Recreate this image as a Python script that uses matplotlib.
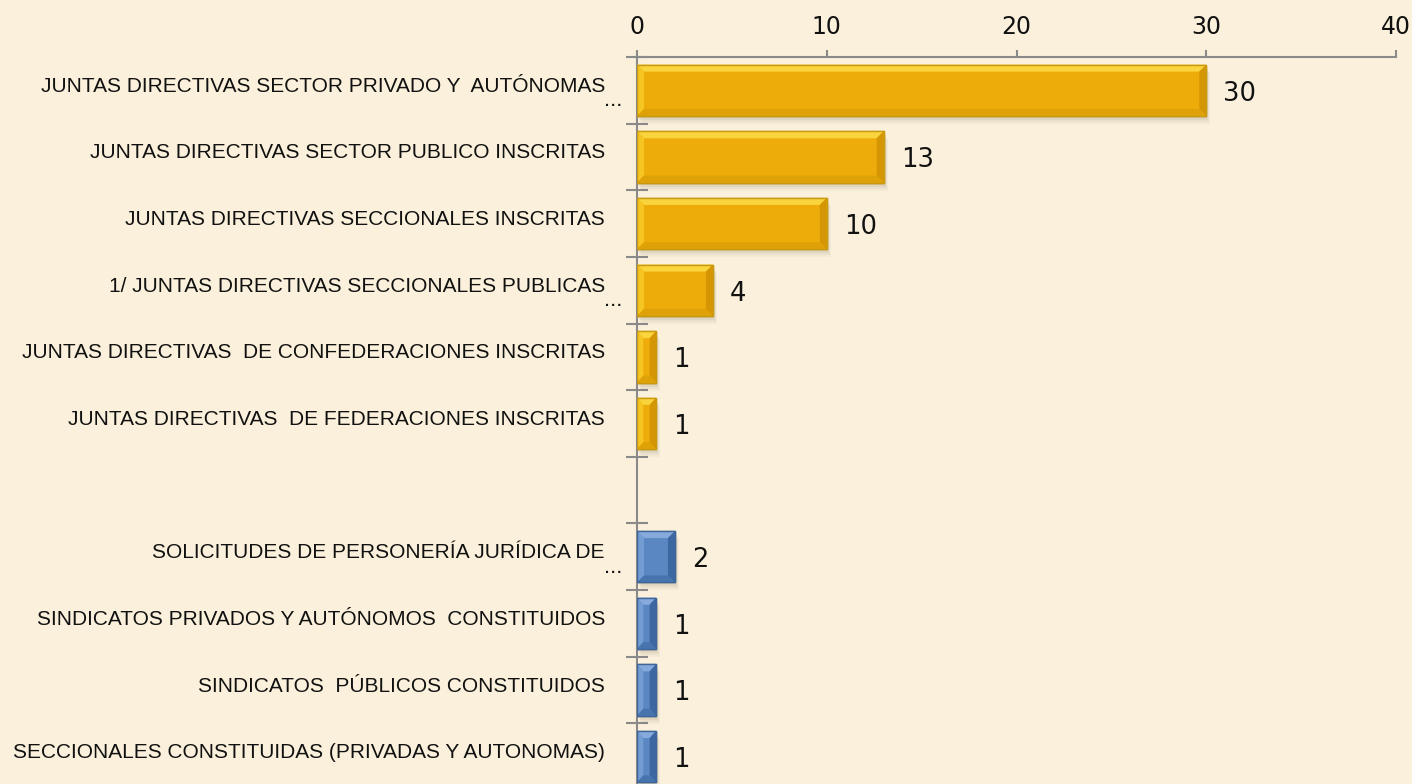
import matplotlib.pyplot as plt
import matplotlib.transforms as mtransforms
from matplotlib.patches import Polygon, Rectangle

# data
categories = [
    "JUNTAS DIRECTIVAS SECTOR PRIVADO Y  AUTÓNOMAS",
    "JUNTAS DIRECTIVAS SECTOR PUBLICO INSCRITAS",
    "JUNTAS DIRECTIVAS SECCIONALES INSCRITAS",
    "1/ JUNTAS DIRECTIVAS SECCIONALES PUBLICAS",
    "JUNTAS DIRECTIVAS  DE CONFEDERACIONES INSCRITAS",
    "JUNTAS DIRECTIVAS  DE FEDERACIONES INSCRITAS",
    "",
    "SOLICITUDES DE PERSONERÍA JURÍDICA DE",
    "SINDICATOS PRIVADOS Y AUTÓNOMOS  CONSTITUIDOS",
    "SINDICATOS  PÚBLICOS CONSTITUIDOS",
    "SECCIONALES CONSTITUIDAS (PRIVADAS Y AUTONOMAS)",
]
values = [30, 13, 10, 4, 1, 1, None, 2, 1, 1, 1]
truncated = [True, False, False, True, False, False, False, True, False, False, False]
groups = ["gold"] * 6 + [None] + ["blue"] * 4
x_ticks = [0, 10, 20, 30, 40]

palette = {
    # main, top, left, right, bottom, edge
    "gold": ("#EEAC0B", "#F9D43C", "#F6C521", "#D59606", "#DFA108", "#C99A10"),
    "blue": ("#5A87C2", "#86AADB", "#729CD2", "#3D67A0", "#4774AF", "#3F6599"),
}

W, H = 1412, 784
fig = plt.figure(figsize=(W / 100, H / 100), dpi=100)
bg = "#FAF0DB"
fig.patch.set_facecolor(bg)

ax = fig.add_axes([637 / W, 1 - 790 / H, (1396 - 637) / W, (790 - 57) / H])
ax.set_facecolor("none")
n = len(categories)
ax.set_xlim(0, 40)
ax.set_ylim(n - 0.5, -0.5)

# pixel -> data units
px_x = 40 / (1396 - 637)
px_y = n / (790 - 57)

bar_h = 0.77
bev = 7
for i, (v, g) in enumerate(zip(values, groups)):
    if v is None:
        continue
    main, top, left, right, bottom, edge = palette[g]
    y0, y1 = i - bar_h / 2, i + bar_h / 2
    # soft shadow
    for k, a in [(8, 0.04), (6, 0.05), (4, 0.07), (2, 0.09)]:
        ax.add_patch(Rectangle((k * px_x * 0.5, y0 + k * px_y), v, bar_h,
                               facecolor="#5a4a2a", alpha=a, lw=0, zorder=2))
    ax.barh(i, v, height=bar_h, color=main, edgecolor=edge, lw=1, zorder=3)
    bx, by = bev * px_x, bev * px_y
    bx = min(bx, v / 3)
    xi0, xi1 = bx, v - bx
    yi0, yi1 = y0 + by, y1 - by
    ax.add_patch(Polygon([(0, y0), (v, y0), (xi1, yi0), (xi0, yi0)], closed=True,
                         facecolor=top, lw=0, zorder=4))
    ax.add_patch(Polygon([(0, y0), (xi0, yi0), (xi0, yi1), (0, y1)], closed=True,
                         facecolor=left, lw=0, zorder=4))
    ax.add_patch(Polygon([(v, y0), (v, y1), (xi1, yi1), (xi1, yi0)], closed=True,
                         facecolor=right, lw=0, zorder=4))
    ax.add_patch(Polygon([(0, y1), (xi0, yi1), (xi1, yi1), (v, y1)], closed=True,
                         facecolor=bottom, lw=0, zorder=4))
    ax.add_patch(Rectangle((0, y0), v, bar_h, facecolor="none", edgecolor=edge,
                           lw=1, zorder=5))
    ax.text(v + 17 * px_x, i + 0.05, str(v), ha="left", va="center",
            fontsize=18.5, color="#111111", family="DejaVu Sans", zorder=6)

# category labels
lab_font = ["Liberation Sans", "DejaVu Sans"]
lab_size = 15
trans = mtransforms.offset_copy(ax.get_yaxis_transform(), fig=fig, x=-32, y=0, units="dots")
trans_dots = mtransforms.offset_copy(ax.get_yaxis_transform(), fig=fig, x=-15, y=0, units="dots")
for i, (c, t) in enumerate(zip(categories, truncated)):
    if not c:
        continue
    if t:
        ax.text(0, i - 0.06, c, transform=trans, ha="right", va="center",
                fontsize=lab_size, family=lab_font, color="#111111")
        ax.text(0, i + 0.16, "...", transform=trans_dots, ha="right", va="center",
                fontsize=lab_size + 1, family=lab_font, color="#111111")
    else:
        ax.text(0, i - 0.06, c, transform=trans, ha="right", va="center",
                fontsize=lab_size, family=lab_font, color="#111111")

# axes styling
gray = "#8A8A8A"
ax.xaxis.tick_top()
ax.set_xticks(x_ticks)
ax.set_xticklabels([str(t) for t in x_ticks], fontsize=17, family="DejaVu Sans", color="#111111")
ax.tick_params(axis="x", direction="out", length=5, width=1.5, color=gray, pad=8)
ax.set_yticks([k - 0.5 for k in range(n + 1)])
ax.set_yticklabels([])
ax.tick_params(axis="y", direction="inout", length=16, width=1.5, color=gray)
for s in ["right", "bottom"]:
    ax.spines[s].set_visible(False)
for s in ["top", "left"]:
    ax.spines[s].set_color(gray)
    ax.spines[s].set_linewidth(1.5)

fig.savefig("out.png", dpi=100, facecolor=bg)
